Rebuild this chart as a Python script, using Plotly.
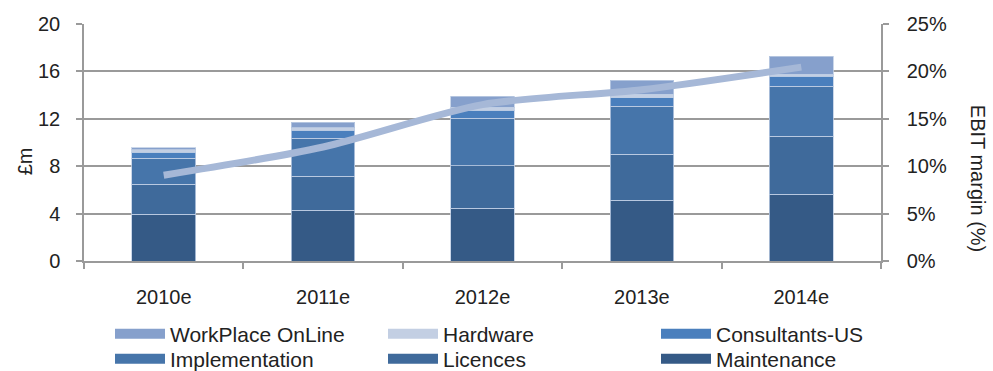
import plotly.graph_objects as go

years = ["2010e", "2011e", "2012e", "2013e", "2014e"]
maintenance = [3.94, 4.28, 4.45, 5.12, 5.63]
licences = [2.53, 2.89, 3.57, 3.88, 4.89]
implementation = [2.22, 3.21, 4.02, 4.05, 4.22]
consultants_us = [0.50, 0.67, 0.70, 0.71, 0.85]
hardware = [0.21, 0.20, 0.23, 0.33, 0.19]
workplace_online = [0.14, 0.45, 0.95, 1.18, 1.52]
ebit_margin = [0.0905, 0.1203, 0.165, 0.1807, 0.2045]

series = [
    ("Maintenance", maintenance, "#355a86"),
    ("Licences", licences, "#3f6a9b"),
    ("Implementation", implementation, "#4675aa"),
    ("Consultants-US", consultants_us, "#4a7fbd"),
    ("Hardware", hardware, "#c3cfe3"),
    ("WorkPlace OnLine", workplace_online, "#86a0cc"),
]

FONT = "Liberation Sans, Arial, sans-serif"
TXT = "#222222"
GRID = "#9a9a9a"

fig = go.Figure()
for name, vals, col in series:
    fig.add_trace(go.Bar(
        x=years, y=vals, name=name, marker_color=col,
        marker_line=dict(color="rgba(190,205,228,0.8)", width=1),
        showlegend=False, yaxis="y",
    ))

fig.add_trace(go.Scatter(
    x=years, y=ebit_margin, mode="lines", name="EBIT margin",
    line=dict(color="#a6b8d7", width=7, shape="spline", smoothing=0.8),
    yaxis="y2", showlegend=False,
))

# legend entries: 3 columns x 2 rows, one legend box per entry
legend_layout = [
    ("WorkPlace OnLine", 110, 334),
    ("Hardware", 383, 334),
    ("Consultants-US", 656, 334),
    ("Implementation", 110, 359),
    ("Licences", 383, 359),
    ("Maintenance", 656, 359),
]
colors = {n: c for n, _, c in series}
legends = {}
for i, (name, xpx, ypx) in enumerate(legend_layout):
    lg = "legend" if i == 0 else f"legend{i + 1}"
    fig.add_trace(go.Scatter(x=[None], y=[None], mode="lines", name=name,
                             line=dict(color=colors[name], width=13), legend=lg))
    legends[lg] = dict(
        x=xpx / 993, y=1 - ypx / 371, orientation="v", xref="container", yref="container",
        xanchor="left", yanchor="middle", font=dict(family=FONT, size=21, color=TXT),
        itemwidth=50, bgcolor="rgba(0,0,0,0)", itemclick=False, itemdoubleclick=False,
    )

fig.update_layout(
    width=993, height=371,
    margin=dict(l=83.5, r=111.5, t=23.5, b=110, autoexpand=False),
    paper_bgcolor="white", plot_bgcolor="white",
    barmode="stack", bargap=0.6,
    font=dict(family=FONT, size=20, color=TXT),
    xaxis=dict(
        type="category", showgrid=False, ticks="outside", tickson="boundaries",
        ticklen=6, tickcolor=GRID, tickwidth=1.5, showline=True, linecolor=GRID,
        linewidth=1.5, ticklabelstandoff=17, tickfont=dict(size=20, color=TXT),
    ),
    yaxis=dict(
        range=[0, 20], dtick=4, showgrid=True, gridcolor=GRID, gridwidth=1.5,
        ticks="outside", ticklen=6, tickcolor=GRID, tickwidth=1.5,
        showline=True, linecolor=GRID, linewidth=1.5, zeroline=False,
        ticklabelstandoff=12, tickfont=dict(size=20, color=TXT),
    ),
    yaxis2=dict(
        range=[0, 0.25], dtick=0.05, tickformat=".0%", overlaying="y", side="right",
        showgrid=False, ticks="outside", ticklen=6, tickcolor=GRID, tickwidth=1.5,
        showline=True, linecolor=GRID, linewidth=1.5, zeroline=False,
        ticklabelstandoff=14, tickfont=dict(size=20, color=TXT),
    ),
    annotations=[
        dict(text="£m", xref="paper", yref="paper", x=(24.5 - 83.5) / 798,
             y=(261 - 161) / 237.5, showarrow=False, textangle=-90,
             font=dict(size=20, color=TXT), xanchor="center", yanchor="middle"),
        dict(text="EBIT margin (%)", xref="paper", yref="paper", x=(978 - 83.5) / 798,
             y=(261 - 178) / 237.5, showarrow=False, textangle=90,
             font=dict(size=20, color=TXT), xanchor="center", yanchor="middle"),
    ],
    **legends,
)

fig.write_html("out.html")
